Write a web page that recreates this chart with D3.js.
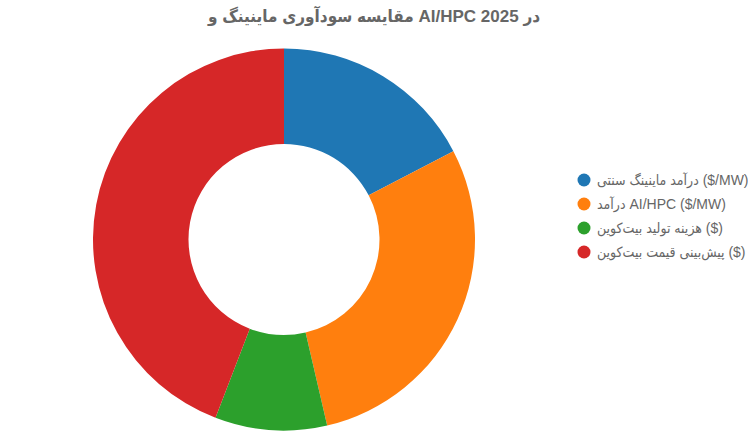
<!DOCTYPE html>
<html>
<head>
<meta charset="utf-8">
<script src="https://cdn.jsdelivr.net/npm/d3@7"></script>
<style>
  body { margin: 0; background: #fff; }
  svg text { font-family: Arial, "Liberation Sans", "DejaVu Sans Condensed", sans-serif; fill: #666; }
</style>
</head>
<body>
<svg id="chart" width="748" height="433"></svg>
<script>
// chart data
var title = 'مقایسه سودآوری ماینینگ و AI/HPC در 2025';
var labels = ['درآمد ماینینگ سنتی ($/MW)', 'درآمد AI/HPC ($/MW)', 'هزینه تولید بیت‌کوین ($)', 'پیش‌بینی قیمت بیت‌کوین ($)'];
var values = [55000, 92000, 30000, 140000];
var colors = ['#1f77b4', '#ff7f0e', '#2ca02c', '#d62728'];

var width = 748, height = 433;
var cx = 284, cy = 239.5;
var outerR = 191, innerR = 95.5;

var svg = d3.select('#chart');

svg.append('text')
  .attr('x', width / 2)
  .attr('y', 22)
  .attr('text-anchor', 'middle')
  .style('font-size', '17px')
  .style('font-weight', 'bold')
  .text(title);

var color = d3.scaleOrdinal().domain(labels).range(colors);

var pie = d3.pie().sort(null).value(function(d, i){ return values[i]; });
var arc = d3.arc().innerRadius(innerR).outerRadius(outerR);

var g = svg.append('g').attr('transform', 'translate(' + cx + ',' + cy + ')');
g.selectAll('path')
  .data(pie(labels))
  .enter().append('path')
  .attr('d', arc)
  .attr('fill', function(d){ return color(d.data); });

// legend on the right
var legendY = d3.scalePoint().domain(labels).range([180, 252]);
var legend = svg.append('g').selectAll('g')
  .data(labels)
  .enter().append('g')
  .attr('transform', function(d){ return 'translate(584,' + legendY(d) + ')'; });

legend.append('circle')
  .attr('r', 6.5)
  .attr('fill', function(d){ return color(d); });

legend.append('text')
  .attr('x', 13)
  .attr('dy', '0.35em')
  .style('font-size', '14px')
  .text(function(d){ return d; });
</script>
</body>
</html>
